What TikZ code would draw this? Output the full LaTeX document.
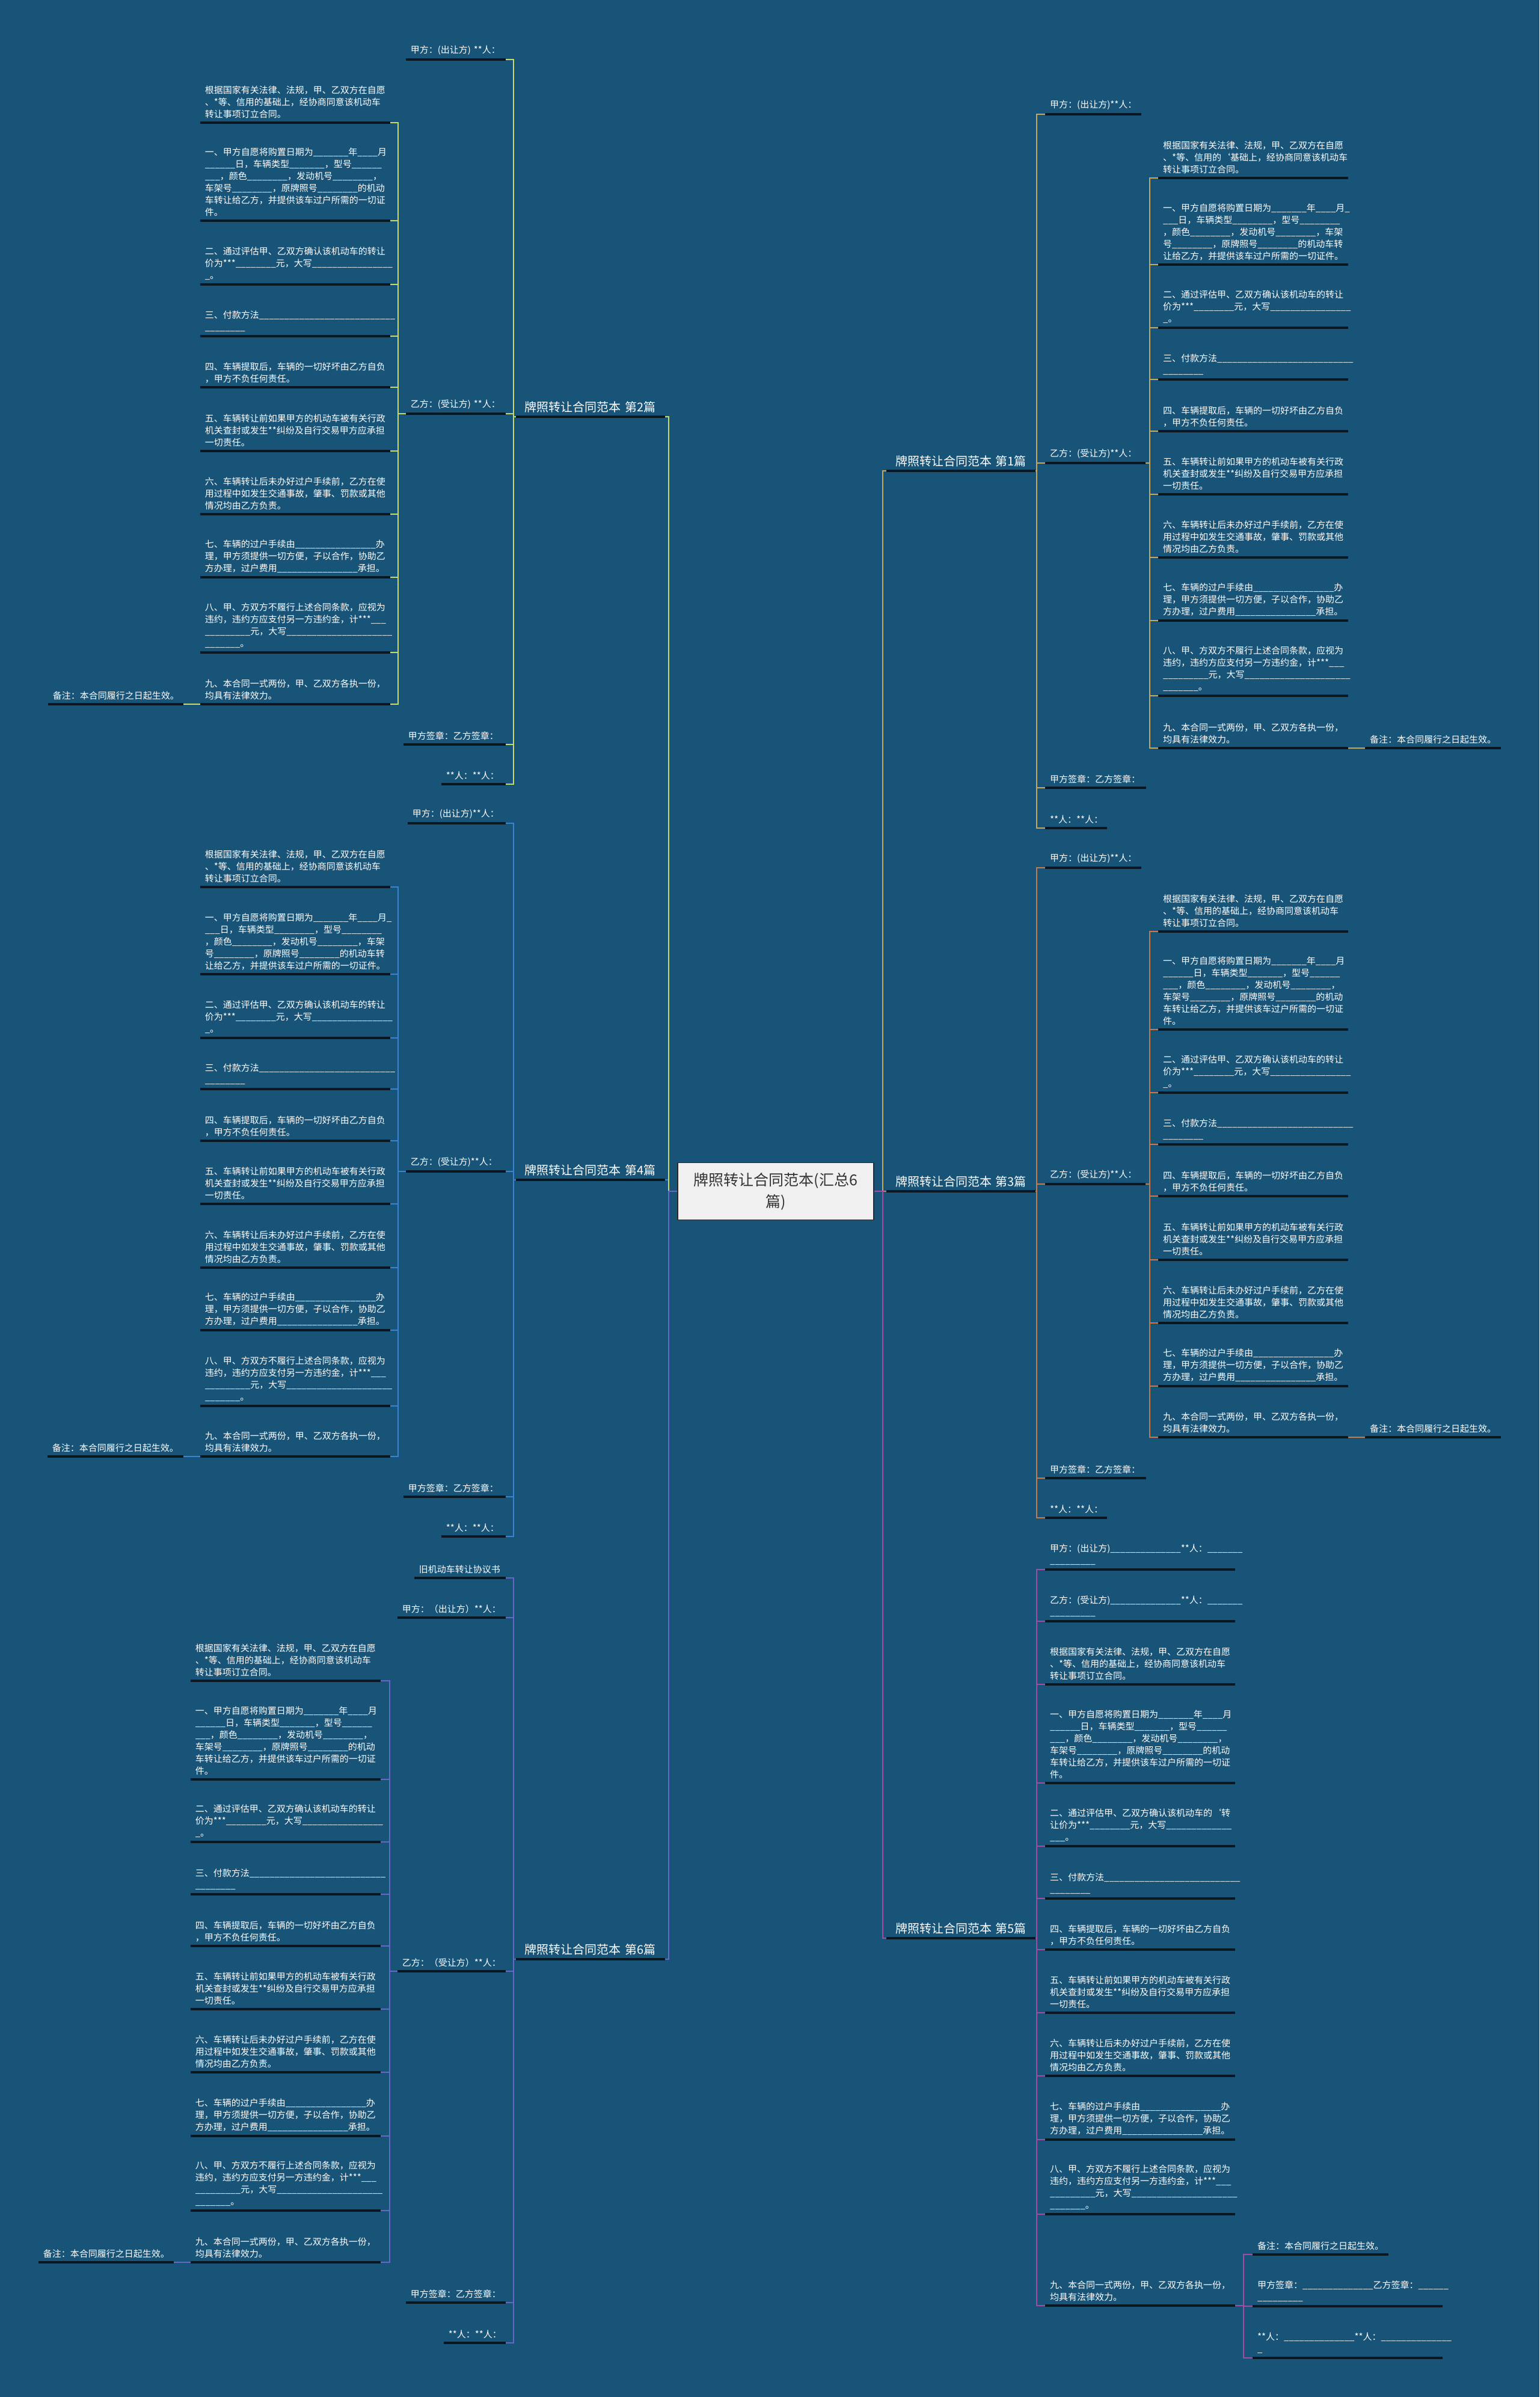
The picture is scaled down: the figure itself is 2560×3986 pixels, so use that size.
\documentclass[tikz,border=0pt]{standalone}
\usepackage{fontspec}
\setmainfont{Noto Sans CJK SC}
\definecolor{bg}{HTML}{185378}
\definecolor{ulc}{HTML}{0A1621}
\definecolor{cA}{HTML}{C8A860}
\definecolor{cB}{HTML}{C6DA6E}
\definecolor{cC}{HTML}{C87A4A}
\definecolor{cD}{HTML}{3C82D2}
\definecolor{cE}{HTML}{A44BA8}
\definecolor{cF}{HTML}{6767C8}
\definecolor{rootfill}{HTML}{F0F0F0}
\definecolor{rootline}{HTML}{2A2A2A}
\definecolor{roottext}{HTML}{333333}
\tikzset{
  leaf/.style={text width=#1pt, inner xsep=8pt, inner ysep=7pt, align=left, text=white, font=\fontsize{15}{20}\selectfont},
  lr/.style={leaf=#1, anchor=south west},
  ll/.style={leaf=#1, anchor=south east},
  ulin/.style={line width=3.5pt, draw=ulc},
  brl/.style={text width=218pt, inner xsep=15pt, inner ysep=7pt, align=left, text=white, font=\fontsize{20}{24}\selectfont},
  link/.style={line width=2pt, draw=#1},
  rootbox/.style={draw=rootline, fill=rootfill, line width=1.5pt, minimum width=326pt, minimum height=95pt, inner sep=0pt, align=center, text=roottext, font=\fontsize{25}{36}\selectfont}
}
\newcommand\nR[4]{\node[lr=#3] (#1) at (#2) {#4};\draw[ulin] (#1.south west) -- (#1.south east);}
\newcommand\nL[4]{\node[ll=#3] (#1) at (#2) {#4};\draw[ulin] (#1.south west) -- (#1.south east);}
\newcommand\bR[3]{\node[brl,anchor=south west] (#1) at (#2) {#3};\draw[ulin] (#1.south west) -- (#1.south east);}
\newcommand\bL[3]{\node[brl,anchor=south east] (#1) at (#2) {#3};\draw[ulin] (#1.south west) -- (#1.south east);}
\newcommand\kR[4]{\draw[link=#1] (#2.south east) -- ++(#4,0) |- (#3.south west);}
\newcommand\kL[4]{\draw[link=#1] (#2.south west) -- ++(-#4,0) |- (#3.south east);}
\catcode`\_=12
\newcommand\ctGJ{根据国家有关法律、法规，甲、乙双方在自愿\\、*等、信用的基础上，经协商同意该机动车\\转让事项订立合同。}
\newcommand\ctGJb{根据国家有关法律、法规，甲、乙双方在自愿\\、*等、信用的\symbol{96}基础上，经协商同意该机动车\\转让事项订立合同。}
\newcommand\ctYa{一、甲方自愿将购置日期为_______年____月\\______日，车辆类型_______，型号______\\___，颜色________，发动机号________，\\车架号________，原牌照号________的机动\\车转让给乙方，并提供该车过户所需的一切证\\件。}
\newcommand\ctYb{一、甲方自愿将购置日期为_______年____月_\\___日，车辆类型________，型号________\\，颜色________，发动机号________，车架\\号________，原牌照号________的机动车转\\让给乙方，并提供该车过户所需的一切证件。}
\newcommand\ctEr{二、通过评估甲、乙双方确认该机动车的转让\\价为***________元，大写________________\\_。}
\newcommand\ctErb{二、通过评估甲、乙双方确认该机动车的\symbol{96}转\\让价为***________元，大写_____________\\___。}
\newcommand\ctSan{三、付款方法___________________________\\________}
\newcommand\ctSi{四、车辆提取后，车辆的一切好坏由乙方自负\\，甲方不负任何责任。}
\newcommand\ctWu{五、车辆转让前如果甲方的机动车被有关行政\\机关查封或发生**纠纷及自行交易甲方应承担\\一切责任。}
\newcommand\ctLiu{六、车辆转让后未办好过户手续前，乙方在使\\用过程中如发生交通事故，肇事、罚款或其他\\情况均由乙方负责。}
\newcommand\ctQi{七、车辆的过户手续由________________办\\理，甲方须提供一切方便，子以合作，协助乙\\方办理，过户费用________________承担。}
\newcommand\ctBa{八、甲、方双方不履行上述合同条款，应视为\\违约，违约方应支付另一方违约金，计***___\\_________元，大写_____________________\\_______。}
\newcommand\ctJiu{九、本合同一式两份，甲、乙双方各执一份，\\均具有法律效力。}
\newcommand\ctBz{备注：本合同履行之日起生效。}
\begin{document}
\begin{tikzpicture}[x=1pt,y=-1pt]
\fill[bg] (0,0) rectangle (2560,3986);
\useasboundingbox (0,0) rectangle (2560,3986);
\node[rootbox] (root) at (1290,1981) {牌照转让合同范本(汇总6\\篇)};
% ---------------- branch 1 (right, gold)
\bR{b1}{1474,783}{牌照转让合同范本~第1篇}
\nR{b1a}{1738,190}{144}{甲方：(出让方)**人：}
\nR{b1b}{1738,770}{151}{乙方：(受让方)**人：}
\nR{b1c}{1738,1310}{152}{甲方签章：乙方签章：}
\nR{b1d}{1738,1377}{87}{**人：**人：}
\nR{b1k0}{1926,296}{300}{\ctGJb}
\nR{b1k1}{1926,440}{300}{\ctYb}
\nR{b1k2}{1926,545}{300}{\ctEr}
\nR{b1k3}{1926,631}{300}{\ctSan}
\nR{b1k4}{1926,717}{300}{\ctSi}
\nR{b1k5}{1926,822}{300}{\ctWu}
\nR{b1k6}{1926,927}{300}{\ctLiu}
\nR{b1k7}{1926,1032}{300}{\ctQi}
\nR{b1k8}{1926,1157}{300}{\ctBa}
\nR{b1k9}{1926,1244}{300}{\ctJiu}
\nR{b1n}{2270,1244}{210}{\ctBz}
\foreach \c in {a,b,c,d} {\kR{cA}{b1}{b1\c}{2}}
\foreach \c in {0,...,9} {\kR{cA}{b1b}{b1k\c}{7}}
\draw[link=cA] (b1k9.south east) -- (b1n.south west);
% ---------------- branch 3 (right, orange)
\bR{b3}{1474,1981}{牌照转让合同范本~第3篇}
\nR{b3a}{1738,1443}{144}{甲方：(出让方)**人：}
\nR{b3b}{1738,1969}{151}{乙方：(受让方)**人：}
\nR{b3c}{1738,2458}{152}{甲方签章：乙方签章：}
\nR{b3d}{1738,2524}{87}{**人：**人：}
\nR{b3k0}{1926,1549}{300}{\ctGJ}
\nR{b3k1}{1926,1712}{300}{\ctYa}
\nR{b3k2}{1926,1817}{300}{\ctEr}
\nR{b3k3}{1926,1903}{300}{\ctSan}
\nR{b3k4}{1926,1989}{300}{\ctSi}
\nR{b3k5}{1926,2095}{300}{\ctWu}
\nR{b3k6}{1926,2200}{300}{\ctLiu}
\nR{b3k7}{1926,2305}{300}{\ctQi}
\nR{b3k9}{1926,2390}{300}{\ctJiu}
\nR{b3n}{2270,2390}{210}{\ctBz}
\foreach \c in {a,b,c,d} {\kR{cC}{b3}{b3\c}{2}}
\foreach \c in {0,1,2,3,4,5,6,7,9} {\kR{cC}{b3b}{b3k\c}{7}}
\draw[link=cC] (b3k9.south east) -- (b3n.south west);
% ---------------- branch 5 (right, purple)
\bR{b5}{1474,3223}{牌照转让合同范本~第5篇}
\nR{b5p}{1738,2610}{300}{甲方：(出让方)______________**人：_______\\_________}
\nR{b5q}{1738,2696}{300}{乙方：(受让方)______________**人：_______\\_________}
\nR{b5k0}{1738,2801}{300}{\ctGJ}
\nR{b5k1}{1738,2965}{300}{\ctYa}
\nR{b5k2}{1738,3070}{300}{\ctErb}
\nR{b5k3}{1738,3157}{300}{\ctSan}
\nR{b5k4}{1738,3242}{300}{\ctSi}
\nR{b5k5}{1738,3347}{300}{\ctWu}
\nR{b5k6}{1738,3452}{300}{\ctLiu}
\nR{b5k7}{1738,3558}{300}{\ctQi}
\nR{b5k8}{1738,3682}{300}{\ctBa}
\nR{b5k9}{1738,3834}{300}{\ctJiu}
\nR{b5n}{2083,3749}{210}{\ctBz}
\nR{b5s}{2083,3835}{300}{甲方签章：______________乙方签章：______\\_________}
\nR{b5r}{2083,3921}{300}{**人：______________**人：______________\\_}
\foreach \c in {p,q,k0,k1,k2,k3,k4,k5,k6,k7,k8,k9} {\kR{cE}{b5}{b5\c}{2}}
\foreach \c in {n,s,r} {\kR{cE}{b5k9}{b5\c}{14}}
% ---------------- branch 2 (left, yellow-green)
\bL{b2}{1106,693}{牌照转让合同范本~第2篇}
\nL{b2a}{841,99}{150}{甲方：(出让方)~**人：}
\nL{b2b}{841,688}{150}{乙方：(受让方)~**人：}
\nL{b2c}{841,1238}{154}{甲方签章：乙方签章：}
\nL{b2d}{841,1304}{91}{**人：**人：}
\nL{b2k0}{649,204}{300}{\ctGJ}
\nL{b2k1}{649,367}{300}{\ctYa}
\nL{b2k2}{649,473}{300}{\ctEr}
\nL{b2k3}{649,559}{300}{\ctSan}
\nL{b2k4}{649,644}{300}{\ctSi}
\nL{b2k5}{649,750}{300}{\ctWu}
\nL{b2k6}{649,855}{300}{\ctLiu}
\nL{b2k7}{649,960}{300}{\ctQi}
\nL{b2k8}{649,1085}{300}{\ctBa}
\nL{b2k9}{649,1171}{300}{\ctJiu}
\nL{b2n}{305,1171}{209}{\ctBz}
\foreach \c in {a,b,c,d} {\kL{cB}{b2}{b2\c}{4}}
\foreach \c in {0,...,9} {\kL{cB}{b2b}{b2k\c}{13}}
\draw[link=cB] (b2k9.south west) -- (b2n.south east);
% ---------------- branch 4 (left, blue)
\bL{b4}{1106,1962}{牌照转让合同范本~第4篇}
\nL{b4a}{841,1369}{147}{甲方：(出让方)**人：}
\nL{b4b}{841,1948}{150}{乙方：(受让方)**人：}
\nL{b4c}{841,2489}{154}{甲方签章：乙方签章：}
\nL{b4d}{841,2555}{91}{**人：**人：}
\nL{b4k0}{649,1475}{300}{\ctGJ}
\nL{b4k1}{649,1620}{300}{\ctYb}
\nL{b4k2}{649,1726}{300}{\ctEr}
\nL{b4k3}{649,1811}{300}{\ctSan}
\nL{b4k4}{649,1897}{300}{\ctSi}
\nL{b4k5}{649,2002}{300}{\ctWu}
\nL{b4k6}{649,2108}{300}{\ctLiu}
\nL{b4k7}{649,2212}{300}{\ctQi}
\nL{b4k8}{649,2338}{300}{\ctBa}
\nL{b4k9}{649,2422}{300}{\ctJiu}
\nL{b4n}{305,2422}{210}{\ctBz}
\foreach \c in {a,b,c,d} {\kL{cD}{b4}{b4\c}{4}}
\foreach \c in {0,...,9} {\kL{cD}{b4b}{b4k\c}{13}}
\draw[link=cD] (b4k9.south west) -- (b4n.south east);
% ---------------- branch 6 (left, slate)
\bL{b6}{1106,3258}{牌照转让合同范本~第6篇}
\nL{b6z}{841,2624}{136}{旧机动车转让协议书}
\nL{b6a}{841,2690}{164}{甲方：（出让方）**人：}
\nL{b6b}{841,3278}{164}{乙方：（受让方）**人：}
\nL{b6c}{841,3829}{150}{甲方签章：乙方签章：}
\nL{b6d}{841,3896}{87}{**人：**人：}
\nL{b6k0}{633,2795}{300}{\ctGJ}
\nL{b6k1}{633,2959}{300}{\ctYa}
\nL{b6k2}{633,3063}{300}{\ctEr}
\nL{b6k3}{633,3150}{300}{\ctSan}
\nL{b6k4}{633,3236}{300}{\ctSi}
\nL{b6k5}{633,3341}{300}{\ctWu}
\nL{b6k6}{633,3446}{300}{\ctLiu}
\nL{b6k7}{633,3552}{300}{\ctQi}
\nL{b6k8}{633,3676}{300}{\ctBa}
\nL{b6k9}{633,3762}{300}{\ctJiu}
\nL{b6n}{289,3762}{209}{\ctBz}
\foreach \c in {z,a,b,c,d} {\kL{cF}{b6}{b6\c}{4}}
\foreach \c in {0,...,9} {\kL{cF}{b6b}{b6k\c}{13}}
\draw[link=cF] (b6k9.south west) -- (b6n.south east);
% ---------------- root links
\draw[link=cC] (root.east) -- ++(14,0) |- (b3.south west);
\draw[link=cA] (root.east) -- ++(14,0) |- (b1.south west);
\draw[link=cE] (root.east) -- ++(14,0) |- (b5.south west);
\draw[link=cD] (root.west) -- ++(-14,0) |- (b4.south east);
\draw[link=cB] (root.west) -- ++(-14,0) |- (b2.south east);
\draw[link=cF] (root.west) -- ++(-14,0) |- (b6.south east);
\end{tikzpicture}
\end{document}
